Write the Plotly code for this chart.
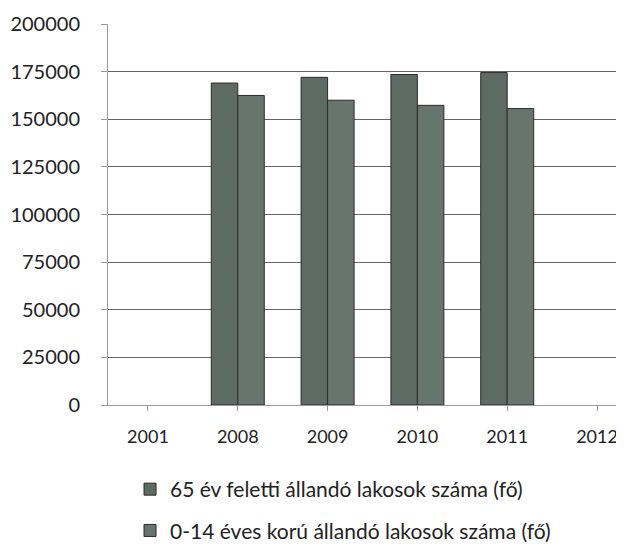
import plotly.graph_objects as go

years = ["2001", "2008", "2009", "2010", "2011", "2012"]
senior_65 = [None, 169000, 172000, 173500, 174500, None]
child_0_14 = [None, 162500, 160000, 157300, 155600, None]
name_65 = "65 év feletti állandó lakosok száma (fő)"
name_014 = "0-14 éves korú állandó lakosok száma (fő)"
y_ticks = [0, 25000, 50000, 75000, 100000, 125000, 150000, 175000, 200000]

fig = go.Figure()
fig.add_trace(go.Bar(x=years, y=senior_65, name=name_65, legendgroup="a",
                     marker=dict(color="#5e6b64", line=dict(color="#2b2b2b", width=1))))
fig.add_trace(go.Bar(x=years, y=child_0_14, name=name_014, legendgroup="b",
                     marker=dict(color="#68756e", line=dict(color="#2b2b2b", width=1))))

fig.update_layout(
    width=616, height=536,
    margin=dict(l=100, r=4, t=16, b=139, autoexpand=False),
    paper_bgcolor="white", plot_bgcolor="white",
    barmode="group", bargap=0.41, bargroupgap=0,
    font=dict(family="Lato", color="#222222"),
    showlegend=True,
    legend=dict(orientation="v", x=0.043, xanchor="left", y=-0.168, yanchor="top",
                font=dict(size=21, color="#222222"), tracegroupgap=11,
                itemwidth=30),
    xaxis=dict(type="category", range=[-0.445, 5.256], showgrid=False,
               showline=True, linecolor="#9a9a9a", linewidth=1,
               ticks="outside", ticklen=5, tickcolor="#9a9a9a",
               ticklabelstandoff=10,
               tickfont=dict(size=18, color="#222222")),
    yaxis=dict(range=[0, 200000], tickvals=y_ticks,
               ticktext=[str(v) for v in y_ticks],
               showgrid=True, gridcolor="#666666", gridwidth=1,
               showline=True, linecolor="#9a9a9a", linewidth=1,
               ticks="outside", ticklen=6, tickcolor="#9a9a9a",
               ticklabelstandoff=17,
               tickfont=dict(size=20, color="#222222"), zeroline=False),
)

fig.write_html("out.html")
